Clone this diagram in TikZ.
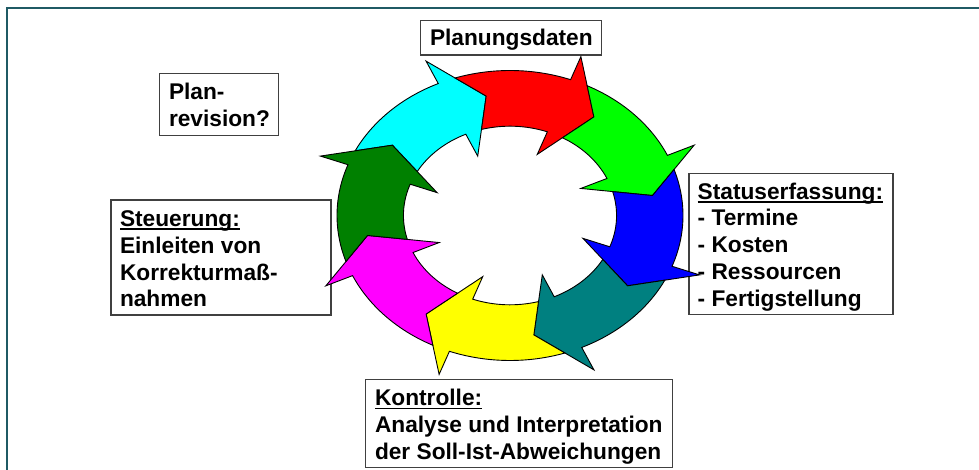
\documentclass[tikz,border=0pt]{standalone}
\usepackage{fontspec}
\setmainfont{Liberation Sans}
\definecolor{framecol}{HTML}{1F5A64}
\definecolor{ccyan}{HTML}{00FFFF}
\definecolor{cred}{HTML}{FF0000}
\definecolor{cgreen}{HTML}{00FF00}
\definecolor{cblue}{HTML}{0000FF}
\definecolor{cteal}{HTML}{008080}
\definecolor{cyellow}{HTML}{FFFF00}
\definecolor{cmagenta}{HTML}{FF00FF}
\definecolor{cdkgreen}{HTML}{008000}
\tikzset{
  lbl/.style={font=\fontsize{22.7}{26.7}\selectfont\bfseries, inner sep=0pt, outer sep=0pt, anchor=base west},
  tbox/.style={draw=black!75, line width=1.3pt, fill=white, inner sep=0pt, outer sep=0pt},
  ringarr/.style={draw=black, line width=0.9pt, line join=miter, fill=#1},
}
\newcommand\myul[1]{\setbox0\hbox{#1}\rlap{\rule[-3.3pt]{\wd0}{1.7pt}}\box0}
\newcommand\ringarrow[2]{%
  \begin{scope}[rotate=#1]
    \path[ringarr=#2] (39:1) arc[start angle=39,end angle=0,radius=1]
      -- (0:1.17) -- (-15:0.835) -- (0:0.45) -- (0:0.616)
      arc[start angle=0,end angle=36,radius=0.616]
      -- (30:0.835) -- cycle;
  \end{scope}}
\begin{document}
\begin{tikzpicture}[x=1pt,y=1pt]
\useasboundingbox (0,0) rectangle (979,470);
\fill[white] (0,0) rectangle (979,470);
\draw[framecol, line width=2pt] (7,0) -- (7,462) -- (979,462);
% boxes
\node[tbox, minimum width=181pt, minimum height=34.3pt] (bplan) at (511.2,432.15) {};
\node[tbox, minimum width=119.4pt, minimum height=62.4pt] (brev) at (219,365.5) {};
\node[tbox, minimum width=220pt, minimum height=115pt] (bsteu) at (221,212.5) {};
\node[tbox, minimum width=204pt, minimum height=141.4pt] (bstat) at (791,226) {};
\node[tbox, minimum width=306.6pt, minimum height=88pt] (bkon) at (519,46.7) {};
% ring
\begin{scope}[shift={(510,254.5)}, xscale=173, yscale=145]
  \ringarrow{114.5}{ccyan}
  \ringarrow{69.5}{cred}
  \ringarrow{24.5}{cgreen}
  \ringarrow{-20.5}{cblue}
  \ringarrow{-65.5}{cteal}
  \ringarrow{-110.5}{cyellow}
  \ringarrow{-155.5}{cmagenta}
  \ringarrow{159.5}{cdkgreen}
\end{scope}
% texts
\node[lbl] (tplan) at (430,424.3) {Planungsdaten};
\node[lbl] (trev) at (169,370) {\begin{tabular}[t]{@{}l@{}}Plan-\\revision?\end{tabular}};
\node[lbl] (tsteu) at (120,243.3) {\begin{tabular}[t]{@{}l@{}}\myul{Steuerung:}\\Einleiten von\\Korrekturmaß-\\nahmen\end{tabular}};
\node[lbl] (tstat) at (697.7,270.7) {\begin{tabular}[t]{@{}l@{}}\myul{Statuserfassung:}\\- Termine\\- Kosten\\- Ressourcen\\- Fertigstellung\end{tabular}};
\node[lbl] (tkon) at (375,64) {\begin{tabular}[t]{@{}l@{}}\myul{Kontrolle:}\\Analyse und Interpretation\\der Soll-Ist-Abweichungen\end{tabular}};
\end{tikzpicture}
\end{document}
